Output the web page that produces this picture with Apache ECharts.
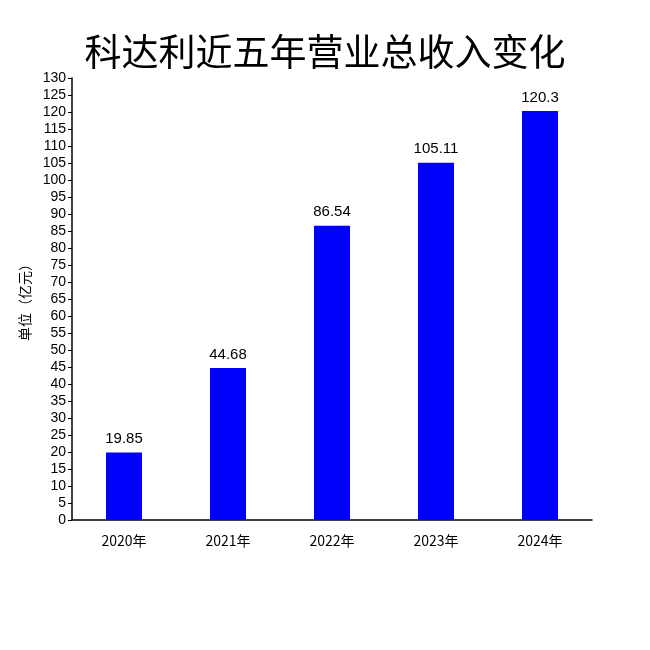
<!DOCTYPE html>
<html><head><meta charset="utf-8">
<script src="https://cdn.jsdelivr.net/npm/echarts@6/dist/echarts.min.js"></script>
<style>html,body{margin:0;padding:0;background:#fff}#c{width:650px;height:650px}</style>
</head><body><div id="c"></div>
<script>
const categories = ['2020年','2021年','2022年','2023年','2024年'];
const revenue = [19.85, 44.68, 86.54, 105.11, 120.3];
const labels = ['19.85','44.68','86.54','105.11','120.3'];
const chart = echarts.init(document.getElementById('c'));
chart.setOption({
  animation:false,
  title:{text:'科达利近五年营业总收入变化',left:'center',top:28,
    textStyle:{fontFamily:'Noto Sans CJK SC',fontSize:37,fontWeight:'normal',color:'#000'}},
  grid:{left:72,right:58,top:78,bottom:130},
  xAxis:{type:'category',data:categories,
    axisLine:{lineStyle:{color:'#000',width:1.5}},axisTick:{show:false},
    axisLabel:{color:'#000',fontSize:14,margin:14,fontFamily:'Noto Sans CJK SC'}},
  yAxis:{type:'value',min:0,max:130,interval:5,name:'单位（亿元）',nameLocation:'middle',nameGap:36,
    nameTextStyle:{color:'#000',fontSize:14,fontFamily:'Noto Sans CJK SC'},
    axisLine:{show:true,lineStyle:{color:'#000',width:1.5}},axisTick:{show:true,length:4,lineStyle:{color:'#000'}},
    splitLine:{show:false},axisLabel:{color:'#000',fontSize:14,margin:6}},
  series:[{type:'bar',data:revenue,barWidth:36,itemStyle:{color:'#0000FF'},
    label:{show:true,position:'top',color:'#000',fontSize:15,distance:6,
      formatter:p=>labels[p.dataIndex]}}]
});
</script></body></html>
